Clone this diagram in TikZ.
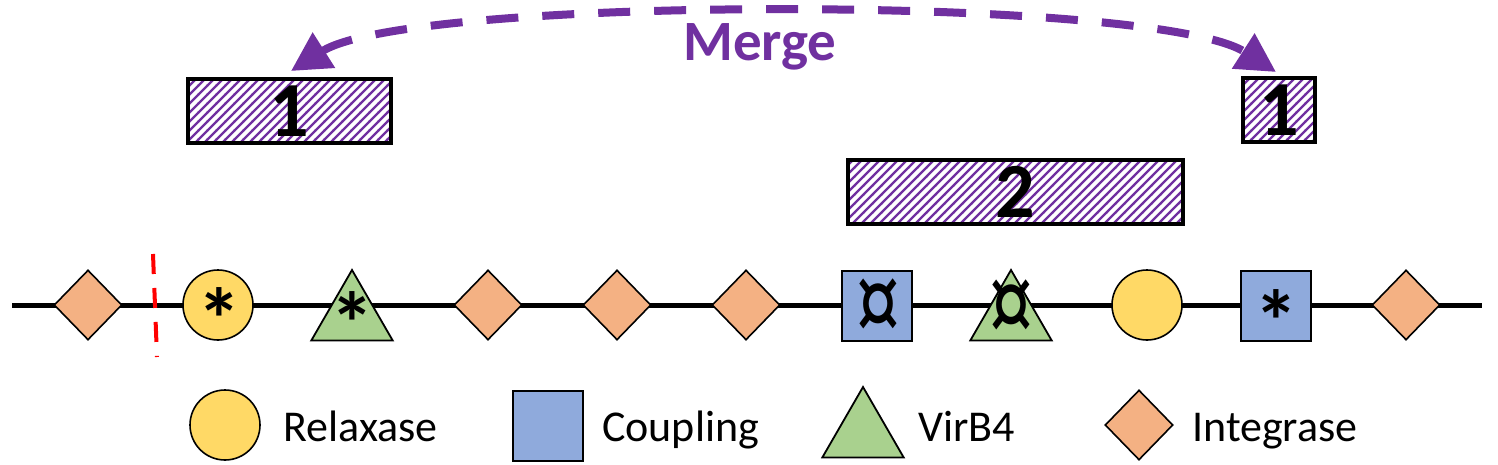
\documentclass[tikz,border=0pt]{standalone}
\usepackage{fontspec}
\setmainfont{Carlito}
\usetikzlibrary{arrows.meta,shapes.geometric,patterns}
\definecolor{mergepurple}{HTML}{7030A0}
\definecolor{relfill}{HTML}{FFD966}
\definecolor{coupfill}{HTML}{8FAADC}
\definecolor{virfill}{HTML}{A9D18E}
\definecolor{intfill}{HTML}{F4B183}
\pgfdeclarepatternformonly{mergehatch}{\pgfqpoint{-1pt}{-1pt}}{\pgfqpoint{10pt}{10pt}}{\pgfqpoint{9pt}{9pt}}{%
  \pgfsetlinewidth{2.3pt}%
  \pgfpathmoveto{\pgfqpoint{-1pt}{-1pt}}%
  \pgfpathlineto{\pgfqpoint{10pt}{10pt}}%
  \pgfusepath{stroke}}
\newcommand{\curmarksign}{\scalebox{1}[1.35]{¤}}
\tikzset{
  geneline/.style={line width=5pt},
  integrase/.style={diamond, draw, fill=intfill, line width=1.6pt, minimum width=68pt,
    minimum height=70pt, inner sep=0pt},
  relaxase/.style={circle, draw, fill=relfill, line width=1.6pt, minimum size=70pt, inner sep=0pt},
  coupling/.style={rectangle, draw, fill=coupfill, line width=2.4pt, minimum size=70pt, inner sep=0pt},
  virbfour/.style={regular polygon, regular polygon sides=3, draw, fill=virfill, line width=1.8pt,
    minimum size=94pt, inner sep=0pt},
  starmark/.style={font=\fontsize{88}{88}\selectfont\bfseries, inner sep=0pt, yshift=-14pt},
  curmark/.style={font=\fontsize{88}{88}\selectfont, inner sep=0pt},
  hatchbox/.style={draw, line width=3.5pt, pattern=mergehatch, pattern color=mergepurple,
    minimum height=64pt, inner sep=0pt, font=\fontsize{78}{78}\selectfont\bfseries},
  mergearrow/.style={{Triangle[length=39pt,width=40pt]}-{Triangle[length=39pt,width=40pt]},
    draw=mergepurple, line width=8pt, dash pattern=on 32pt off 24pt},
  cutline/.style={draw=red, line width=4pt, dash pattern=on 20pt off 14pt},
  legendtext/.style={font=\fontsize{44}{44}\selectfont, anchor=base west, inner sep=0pt},
}
\begin{document}
\begin{tikzpicture}[x=1pt, y=-1pt]
\useasboundingbox (0,0) rectangle (1498,464);

% Gene order on the element.
\coordinate (line start) at (12,305);
\coordinate (line end) at (1482,305);
\draw[geneline] (line start) -- (line end);

\coordinate (cut top) at (153,254);
\coordinate (cut bottom) at (157,357);
\draw[cutline] (cut top) -- (cut bottom);

\node[integrase] (int1) at (88,305) {};
\node[relaxase] (rel1) at (218,305) {};
\node[virbfour] (vir1) at (352,317) {};
\node[integrase] (int2) at (488,305) {};
\node[integrase] (int3) at (617,305) {};
\node[integrase] (int4) at (746,305) {};
\node[coupling] (coup1) at (877,306) {};
\node[virbfour] (vir2) at (1011,317) {};
\node[relaxase] (rel2) at (1147,305) {};
\node[coupling] (coup2) at (1276,306) {};
\node[integrase] (int5) at (1406,305) {};

\node[starmark] (m1) at (219,305) {*};
\node[starmark] (m2) at (352,309) {*};
\node[curmark] (m3) at (878,310) {\curmarksign};
\node[curmark] (m4) at (1011,311) {\curmarksign};
\node[starmark] (m5) at (1276,307) {*};

% Blocks and the merge of the two parts of block 1.
\node[hatchbox, minimum width=203pt] (blk1a) at (289.5,111) {1};
\node[hatchbox, minimum width=335pt] (blk2) at (1015.5,192) {2};
\node[hatchbox, minimum width=72pt] (blk1b) at (1279,110) {1};

\coordinate (tip left) at (291,71);
\coordinate (tip right) at (1276,72);
\draw[mergearrow] (tip left) .. controls (411,-5) and (1156,-5) .. (tip right);
\node[font=\fontsize{57}{57}\selectfont\bfseries, text=mergepurple] (merge) at (760,47) {Merge};

% Legend.
\node[relaxase] (keyrel) at (225,425) {};
\node[legendtext] (keyreltext) at (283,441) {Relaxase};
\node[coupling] (keycoup) at (548,426) {};
\node[legendtext] (keycouptext) at (602,441) {Coupling};
\node[virbfour] (keyvir) at (863,434) {};
\node[legendtext] (keyvirtext) at (918,441) {VirB4};
\node[integrase] (keyint) at (1139,425) {};
\node[legendtext] (keyinttext) at (1192,441) {Integrase};

\end{tikzpicture}
\end{document}
